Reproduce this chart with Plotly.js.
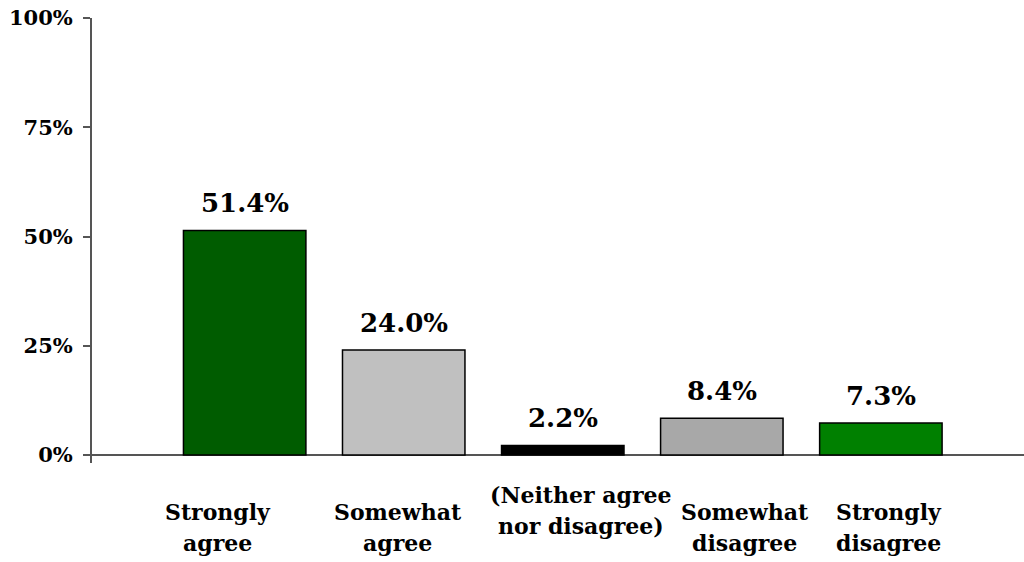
<!DOCTYPE html>
<html>
<head>
<meta charset="utf-8">
<script src="https://cdn.plot.ly/plotly-3.0.1.min.js"></script>
<style>
  html, body { margin: 0; padding: 0; background: #ffffff; }
  #chart { width: 1024px; height: 562px; }
</style>
</head>
<body>
<div id="chart"></div>
<script>
// Survey responses, share of respondents (%)
const categories = [
  'Strongly<br>agree',
  'Somewhat<br>agree',
  '(Neither agree<br>nor disagree)',
  'Somewhat<br>disagree',
  'Strongly<br>disagree'
];
const shares = [51.4, 24.0, 2.2, 8.4, 7.3];
const barColors = ['#005c00', '#c0c0c0', '#000000', '#a8a8a8', '#008000'];
const yTickValues = [0, 25, 50, 75, 100];
const yTickLabels = ['0%', '25%', '50%', '75%', '100%'];

// horizontal / vertical nudges (px) for the wrapped category captions
const captionDx = [-27, -6, 18, 23, 8];
const captionDy = [0, 0, 17, 0, 0];

const FONT = 'DejaVu Serif';

const trace = {
  type: 'bar',
  x: categories,
  y: shares,
  marker: { color: barColors, line: { color: '#000000', width: 1.5 } },
  hoverinfo: 'skip'
};

const annotations = [];

// value labels above each bar
categories.forEach((c, i) => {
  annotations.push({
    x: c, y: shares[i], xref: 'x', yref: 'y',
    text: '<b>' + shares[i].toFixed(1) + '%</b>',
    showarrow: false, yanchor: 'middle', yshift: 27,
    font: { family: FONT, size: 26, color: '#000000' }
  });
});

// category captions below the axis, one annotation per line
categories.forEach((c, i) => {
  const lines = c.split('<br>');
  lines.forEach((ln, k) => {
    annotations.push({
      x: c, y: 0, xref: 'x', yref: 'y',
      text: '<b>' + ln + '</b>',
      showarrow: false, yanchor: 'middle',
      xshift: captionDx[i],
      yshift: -(57 + 31 * k) + captionDy[i],
      font: { family: FONT, size: 22, color: '#000000' }
    });
  });
});

const layout = {
  width: 1024,
  height: 562,
  margin: { l: 92, r: 0, t: 18, b: 99 },
  paper_bgcolor: '#ffffff',
  plot_bgcolor: '#ffffff',
  showlegend: false,
  bargap: 0.23,
  font: { family: FONT, color: '#000000' },
  xaxis: {
    type: 'category',
    range: [-0.96, 4.9],
    showticklabels: false,
    ticks: '',
    showgrid: false,
    showline: false,
    zeroline: false,
    fixedrange: true
  },
  yaxis: {
    range: [-1.83, 100],
    tickvals: yTickValues,
    ticktext: yTickLabels.map(t => '<b>' + t + '</b>'),
    ticks: 'outside',
    ticklen: 7,
    tickwidth: 2,
    tickcolor: '#555555',
    ticklabelstandoff: 6,
    tickfont: { family: FONT, size: 21, color: '#000000' },
    showgrid: false,
    showline: true,
    linecolor: '#555555',
    linewidth: 2,
    zeroline: true,
    zerolinecolor: '#555555',
    zerolinewidth: 2,
    fixedrange: true
  },
  annotations: annotations
};

Plotly.newPlot('chart', [trace], layout, { displayModeBar: false, staticPlot: true });
</script>
</body>
</html>
